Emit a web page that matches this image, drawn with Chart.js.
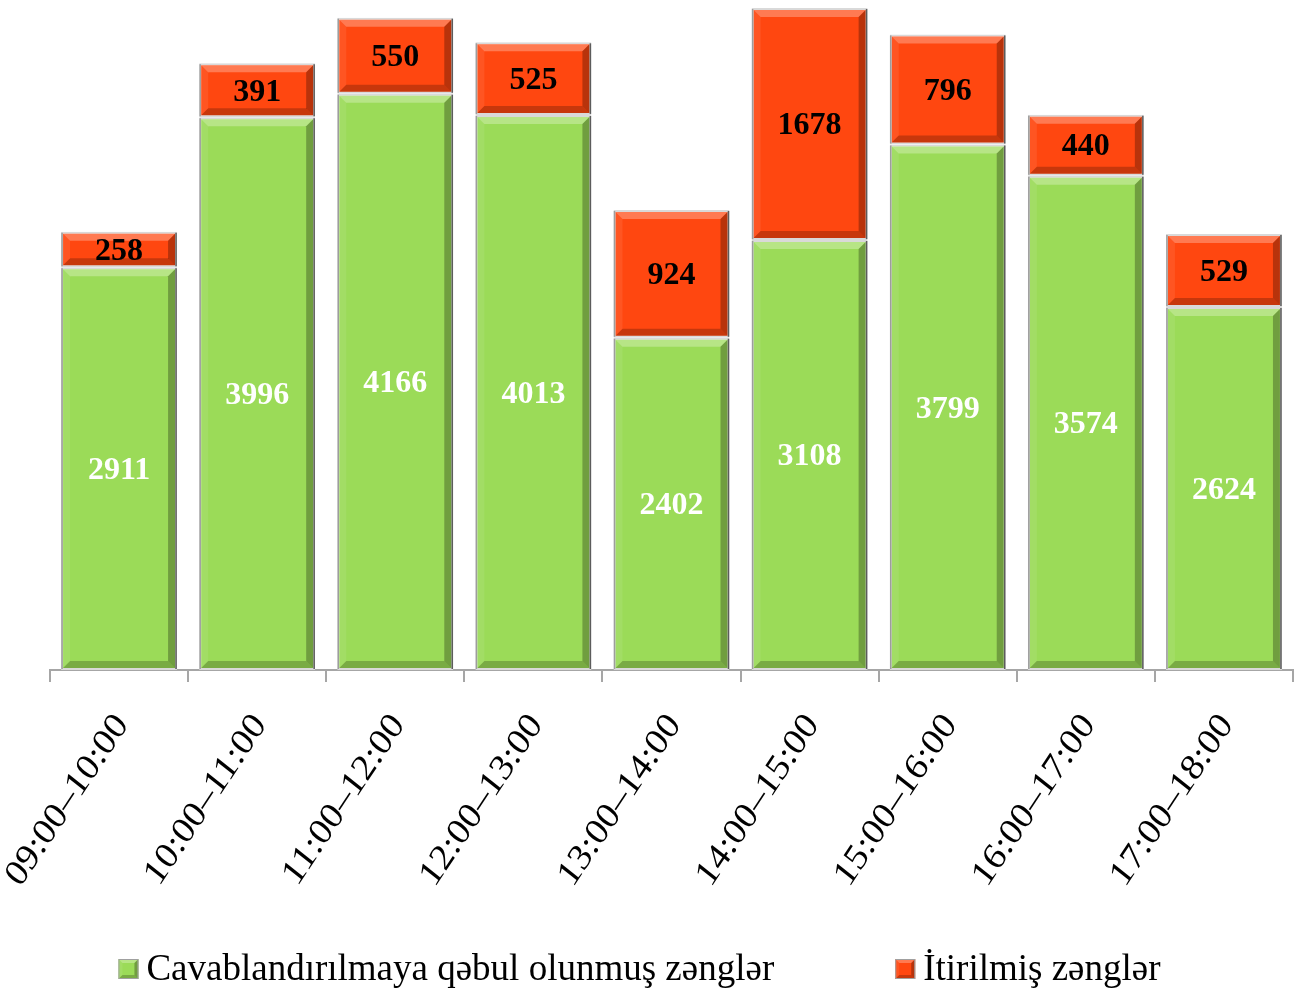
<!DOCTYPE html>
<html>
<head>
<meta charset="utf-8">
<script src="https://cdn.jsdelivr.net/npm/chart.js@4.4.1/dist/chart.umd.min.js"></script>
<style>
  html, body { margin: 0; padding: 0; background: #ffffff; }
  #wrap { width: 1301px; height: 993px; position: relative; }
</style>
</head>
<body>
<div id="wrap"><canvas id="chart" width="1301" height="993"></canvas></div>
<script>
// Hourly call intervals
const categories = ['09:00-10:00', '10:00-11:00', '11:00-12:00', '12:00-13:00', '13:00-14:00',
                    '14:00-15:00', '15:00-16:00', '16:00-17:00', '17:00-18:00'];
// Calls accepted for answering
const answeredCalls = [2911, 3996, 4166, 4013, 2402, 3108, 3799, 3574, 2624];
// Lost calls
const lostCalls = [258, 391, 550, 525, 924, 1678, 796, 440, 529];
const seriesNames = ['Cavablandırılmaya qəbul olunmuş zənglər', 'İtirilmiş zənglər'];

const GREEN = '#9BDB58';
const RED = '#FF4710';
const SERIF = "'Liberation Serif', 'Times New Roman', serif";

// Draws a bevelled rectangle overlay (light top/left, dark right/bottom)
function bevel(ctx, l, t, r, b, k) {
  const poly = (pts, color) => {
    ctx.beginPath();
    ctx.moveTo(pts[0][0], pts[0][1]);
    for (let i = 1; i < pts.length; i++) ctx.lineTo(pts[i][0], pts[i][1]);
    ctx.closePath();
    ctx.fillStyle = color;
    ctx.fill();
  };
  poly([[l, t], [r, t], [r - k, t + k], [l + k, t + k]], 'rgba(255,255,255,0.28)');
  poly([[l, t], [l + k, t + k], [l + k, b - k], [l, b]], 'rgba(255,255,255,0.08)');
  poly([[r, t], [r, b], [r - k, b - k], [r - k, t + k]], 'rgba(0,0,0,0.28)');
  poly([[l, b], [l + k, b - k], [r - k, b - k], [r, b]], 'rgba(0,0,0,0.22)');
}

const bevelPlugin = {
  id: 'bevel',
  afterDatasetsDraw(chart) {
    const ctx = chart.ctx;
    chart.data.datasets.forEach((ds, di) => {
      const meta = chart.getDatasetMeta(di);
      meta.data.forEach(bar => {
        const p = bar.getProps(['x', 'y', 'base', 'width'], true);
        const l = p.x - p.width / 2 + 2, r = p.x + p.width / 2 - 2;
        const t = Math.min(p.y, p.base) + 2, b = Math.max(p.y, p.base) - 2;
        ctx.save();
        bevel(ctx, l, t, r, b, 7);
        ctx.lineWidth = 1.5;
        ctx.strokeStyle = 'rgba(150,150,150,0.9)';
        ctx.beginPath();
        ctx.moveTo(l - 1, b + 1); ctx.lineTo(l - 1, t - 1);
        ctx.stroke();
        ctx.strokeStyle = 'rgba(60,60,60,0.8)';
        ctx.beginPath();
        ctx.moveTo(r + 1, t - 1); ctx.lineTo(r + 1, b + 1);
        ctx.stroke();
        ctx.restore();
      });
    });
  }
};

// Value labels centred inside each segment
const valueLabelPlugin = {
  id: 'valueLabels',
  afterDatasetsDraw(chart) {
    const ctx = chart.ctx;
    ctx.save();
    ctx.font = 'bold 32px ' + SERIF;
    ctx.textAlign = 'center';
    ctx.textBaseline = 'middle';
    chart.data.datasets.forEach((ds, di) => {
      const meta = chart.getDatasetMeta(di);
      ctx.fillStyle = di === 0 ? '#ffffff' : '#000000';
      meta.data.forEach((bar, i) => {
        const p = bar.getProps(['x', 'y', 'base'], true);
        ctx.fillText(String(ds.data[i]), p.x, (p.y + p.base) / 2 + 2);
      });
    });
    ctx.restore();
  }
};

// Slanted, slightly widened category labels under the axis
const slantLabelPlugin = {
  id: 'slantLabels',
  afterDraw(chart) {
    const ctx = chart.ctx;
    const xs = chart.scales.x;
    ctx.save();
    ctx.font = '35px ' + SERIF;
    ctx.fillStyle = '#000000';
    ctx.textAlign = 'right';
    ctx.textBaseline = 'middle';
    // baseline direction (stretched) and glyph-up direction
    const ux = 0.555 * 1.11, uy = -0.832 * 1.11;
    const vx = 0.78, vy = 0.62;
    categories.forEach((lab, i) => {
      const x = xs.getPixelForTick(i);
      ctx.save();
      ctx.transform(ux, uy, vx, vy, x + 3, xs.top + 49);
      ctx.fillText(lab.replace('-', '\u2013'), 0, 0);
      ctx.restore();
    });
    ctx.restore();
  }
};

// Legend row along the bottom edge
const bottomLegendPlugin = {
  id: 'bottomLegend',
  afterDraw(chart) {
    const ctx = chart.ctx;
    const box = 20, gap = 8, itemGap = 121, yMid = 969;
    ctx.save();
    ctx.font = '37px ' + SERIF;
    ctx.textBaseline = 'middle';
    ctx.textAlign = 'left';
    const items = chart.data.datasets.map(ds => ({
      text: ds.label, color: ds.backgroundColor, w: box + gap + ctx.measureText(ds.label).width
    }));
    const total = items.reduce((s, it) => s + it.w, 0) + itemGap * (items.length - 1);
    let x = (chart.width - 22) / 2 - total / 2;
    items.forEach(it => {
      const t = yMid - box / 2;
      ctx.fillStyle = it.color;
      ctx.fillRect(x, t, box, box);
      bevel(ctx, x, t, x + box, t + box, 4);
      ctx.strokeStyle = '#A0A0A0';
      ctx.lineWidth = 1;
      ctx.strokeRect(x + 0.5, t + 0.5, box - 1, box - 1);
      ctx.fillStyle = '#000000';
      ctx.fillText(it.text, x + box + gap, yMid + 1);
      x += it.w + itemGap;
    });
    ctx.restore();
  }
};

new Chart(document.getElementById('chart'), {
  type: 'bar',
  data: {
    labels: categories,
    datasets: [
      { label: seriesNames[0], data: answeredCalls, backgroundColor: GREEN,
        borderColor: '#D9D9D9', borderWidth: 2, borderSkipped: false },
      { label: seriesNames[1], data: lostCalls, backgroundColor: RED,
        borderColor: '#D9D9D9', borderWidth: 2, borderSkipped: false }
    ]
  },
  options: {
    responsive: false,
    animation: false,
    devicePixelRatio: 1,
    layout: { padding: { top: 0, right: 8, bottom: 0, left: 0 } },
    datasets: { bar: { barPercentage: 0.84, categoryPercentage: 1.0 } },
    scales: {
      x: {
        stacked: true,
        offset: true,
        grid: { display: true, drawOnChartArea: false, drawTicks: true, tickLength: 12,
                color: '#A6A6A6', lineWidth: 2, offset: true },
        border: { display: true, color: '#A6A6A6', width: 2 },
        ticks: { display: false },
        afterFit: s => { s.height = 323; }
      },
      y: {
        stacked: true,
        min: 0,
        max: 4844,
        grid: { display: false },
        border: { display: false },
        ticks: { display: false },
        afterFit: s => { s.width = 50; }
      }
    },
    plugins: {
      tooltip: { enabled: false },
      legend: { display: false }
    }
  },
  plugins: [bevelPlugin, valueLabelPlugin, slantLabelPlugin, bottomLegendPlugin]
});
</script>
</body>
</html>
